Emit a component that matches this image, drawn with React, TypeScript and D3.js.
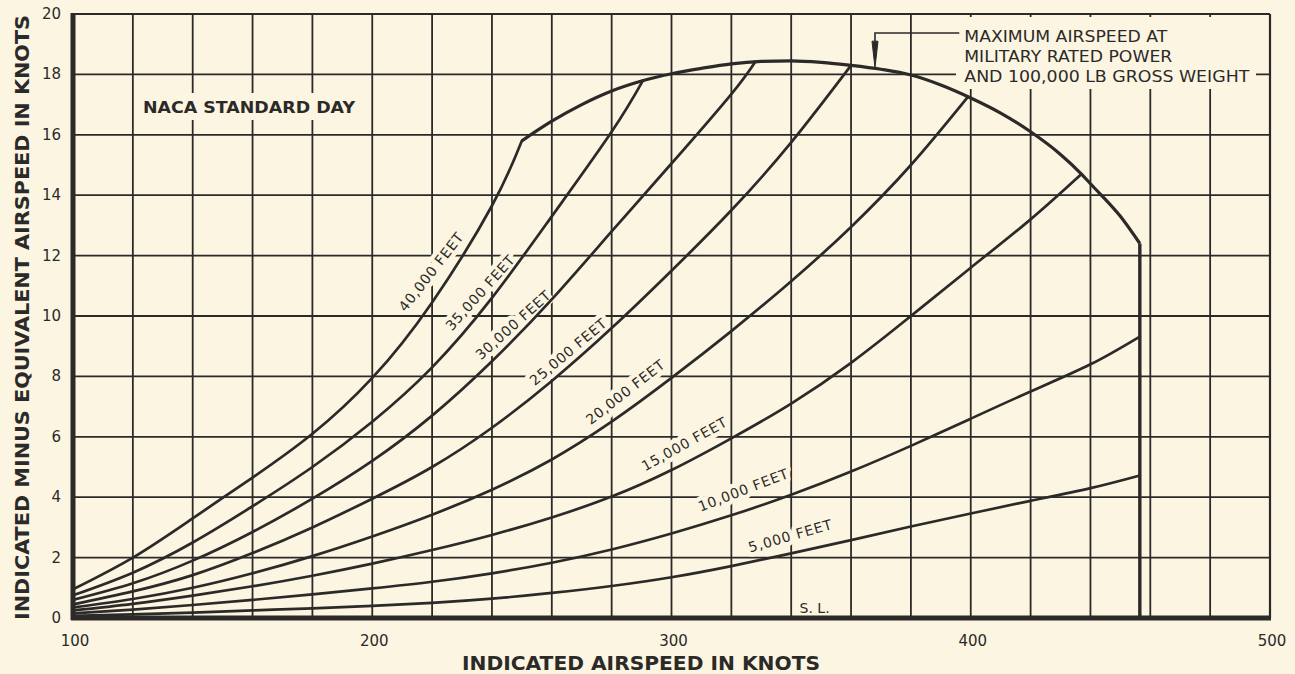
import React from 'react';
import * as d3 from 'd3';

const W = 1295;
const H = 674;

// ---- data (indicated airspeed in knots, Vi - Ve in knots) ----
const knots40 = [100, 120, 140, 160, 180, 200, 220, 240, 250];
const vals40 = [0.95, 2.0, 3.3, 4.65, 6.1, 7.95, 10.45, 13.65, 15.8];

const knots35 = [100, 120, 140, 160, 180, 200, 220, 240, 260, 280, 290.5];
const vals35 = [0.75, 1.5, 2.5, 3.7, 5.0, 6.5, 8.3, 10.6, 13.3, 16.1, 17.8];

const knots30 = [100, 120, 140, 160, 180, 200, 220, 240, 260, 280, 300, 320, 328];
const vals30 = [0.6, 1.15, 1.9, 2.85, 3.95, 5.2, 6.7, 8.5, 10.55, 12.8, 15.05, 17.35, 18.42];

const knots25 = [100, 120, 140, 160, 180, 200, 220, 240, 260, 280, 300, 320, 340, 360];
const vals25 = [0.45, 0.88, 1.42, 2.15, 3.0, 3.95, 5.0, 6.3, 7.85, 9.6, 11.5, 13.5, 15.75, 18.3];

const knots20 = [100, 120, 140, 160, 180, 200, 220, 240, 260, 280, 300, 320, 340, 360, 380, 399];
const vals20 = [0.35, 0.63, 1.0, 1.48, 2.05, 2.7, 3.42, 4.25, 5.25, 6.5, 7.95, 9.5, 11.15, 12.95, 15.0, 17.25];

const knots15 = [100, 120, 140, 160, 180, 200, 220, 240, 260, 280, 300, 320, 340, 360, 380, 400, 420, 437];
const vals15 = [0.25, 0.47, 0.74, 1.05, 1.4, 1.8, 2.25, 2.75, 3.33, 4.02, 4.9, 5.95, 7.1, 8.45, 10.0, 11.6, 13.2, 14.7];

const knots10 = [100, 120, 140, 160, 180, 200, 220, 240, 260, 280, 300, 320, 340, 360, 380, 400, 420, 440, 456.5];
const vals10 = [0.15, 0.28, 0.43, 0.6, 0.78, 0.98, 1.2, 1.48, 1.83, 2.27, 2.8, 3.4, 4.08, 4.85, 5.7, 6.6, 7.5, 8.4, 9.32];

const knots5 = [100, 120, 140, 160, 180, 200, 220, 240, 260, 280, 300, 320, 340, 360, 380, 400, 420, 440, 456.5];
const vals5 = [0.07, 0.12, 0.18, 0.25, 0.32, 0.4, 0.5, 0.64, 0.83, 1.06, 1.35, 1.72, 2.14, 2.58, 3.03, 3.46, 3.88, 4.3, 4.72];

// maximum airspeed envelope
const envKnots = [250, 260, 270, 280, 290, 300, 310, 320, 330, 340, 350, 360, 370, 380, 390, 400, 410, 420, 430, 437, 440, 450, 456.5];
const envVals = [15.8, 16.45, 17.0, 17.45, 17.78, 18.02, 18.2, 18.35, 18.43, 18.45, 18.4, 18.3, 18.17, 17.98, 17.65, 17.22, 16.72, 16.1, 15.35, 14.7, 14.38, 13.3, 12.4];
const maxSpeedKnots = 456.5;

const altitudeNames = ['40,000 FEET', '35,000 FEET', '30,000 FEET', '25,000 FEET', '20,000 FEET', '15,000 FEET', '10,000 FEET', '5,000 FEET'];
const altitudeKnots = [knots40, knots35, knots30, knots25, knots20, knots15, knots10, knots5];
const altitudeVals = [vals40, vals35, vals30, vals25, vals20, vals15, vals10, vals5];

const xTickValues = [100, 200, 300, 400, 500];
const yTickValues = [0, 2, 4, 6, 8, 10, 12, 14, 16, 18, 20];
const xGridValues = d3.range(100, 501, 20);
const yGridValues = d3.range(0, 21, 2);

const xTitle = 'INDICATED AIRSPEED IN KNOTS';
const yTitle = 'INDICATED MINUS EQUIVALENT AIRSPEED IN KNOTS';
const noteTitle = 'NACA STANDARD DAY';
const annotationLines = ['MAXIMUM AIRSPEED AT', 'MILITARY RATED POWER', 'AND 100,000 LB GROSS WEIGHT'];
const seaLevel = 'S.  L.';

// label placement (data coords + angle + text length)
const labelPlacement = [
  { k: 219.6, v: 11.46, a: -52, len: 95 },
  { k: 236.0, v: 10.77, a: -48, len: 95 },
  { k: 247.0, v: 9.7, a: -42, len: 95 },
  { k: 265.4, v: 8.81, a: -40, len: 95 },
  { k: 284.5, v: 7.48, a: -38, len: 95 },
  { k: 304.2, v: 5.76, a: -29, len: 95 },
  { k: 323.9, v: 4.24, a: -21, len: 95 },
  { k: 339.6, v: 2.72, a: -16, len: 86 },
];

const BG = '#fcf5e2';
const INK = '#2b2a28';

export default function App() {
  const x = d3.scaleLinear().domain([100, 500]).range([73, 1270]);
  const y = d3.scaleLinear().domain([0, 20]).range([618, 14]);

  const line = d3
    .line<[number, number]>()
    .x((d) => x(d[0]))
    .y((d) => y(d[1]))
    .curve(d3.curveNatural);

  const envLine = d3
    .line<[number, number]>()
    .x((d) => x(d[0]))
    .y((d) => y(d[1]))
    .curve(d3.curveMonotoneX);

  const curves = altitudeKnots.map((ks, i) => line(ks.map((k, j) => [k, altitudeVals[i][j]] as [number, number])) as string);
  const envPath = envLine(envKnots.map((k, j) => [k, envVals[j]] as [number, number])) as string;

  const font = "'DejaVu Sans', sans-serif";

  const labelEls = (halo: boolean) =>
    altitudeNames.map((name, i) => {
      const p = labelPlacement[i];
      return (
        <text
          key={name + halo}
          transform={`translate(${x(p.k)},${y(p.v)}) rotate(${p.a})`}
          textAnchor="middle"
          dominantBaseline="central"
          fontFamily={font}
          fontSize={14}
          textLength={p.len}
          fill={halo ? 'none' : INK}
          stroke={halo ? BG : 'none'}
          strokeWidth={halo ? 9 : 0}
          strokeLinejoin="round"
        >
          {name}
        </text>
      );
    });

  const annX = x(397.5);
  const arrowK = 368;
  const slX = x(342.8);
  const slY = y(0.18);

  return (
    <svg width={W} height={H} style={{ position: 'absolute', left: 0, top: 0 }}>
      <rect x={0} y={0} width={W} height={H} fill={BG} />
      {/* grid */}
      <g stroke={INK} strokeWidth={1.8}>
        {xGridValues.map((k) => (
          <line key={'gx' + k} x1={x(k)} x2={x(k)} y1={y(20)} y2={y(0)} />
        ))}
        {yGridValues.map((v) => (
          <line key={'gy' + v} x1={x(100)} x2={x(500)} y1={y(v)} y2={y(v)} />
        ))}
      </g>
      {/* knockouts */}
      <rect x={140} y={93} width={218} height={27} fill={BG} />
      <rect x={956} y={17} width={300} height={72} fill={BG} />
      {labelEls(true)}
      <text x={slX} y={slY} fontFamily={font} fontSize={14} stroke={BG} strokeWidth={8} fill="none" strokeLinejoin="round">
        {seaLevel}
      </text>
      {/* borders */}
      <line x1={x(100)} x2={x(500)} y1={y(20)} y2={y(20)} stroke={INK} strokeWidth={2.2} />
      <line x1={x(500)} x2={x(500)} y1={y(20)} y2={y(0)} stroke={INK} strokeWidth={2.2} />
      {/* curves */}
      <g fill="none" stroke={INK} strokeWidth={2.7} strokeLinejoin="round" strokeLinecap="round">
        {curves.map((d, i) => (
          <path key={'c' + i} d={d} />
        ))}
      </g>
      <path d={envPath} fill="none" stroke={INK} strokeWidth={3.2} strokeLinejoin="round" />
      <line
        x1={x(maxSpeedKnots)}
        x2={x(maxSpeedKnots)}
        y1={y(envVals[envVals.length - 1])}
        y2={y(0)}
        stroke={INK}
        strokeWidth={3.4}
      />
      {/* axes (thick) */}
      <line x1={x(100)} x2={x(100)} y1={y(20) - 1} y2={y(0) + 2} stroke={INK} strokeWidth={5} />
      <line x1={x(100) - 2} x2={x(500) + 1} y1={y(0)} y2={y(0)} stroke={INK} strokeWidth={5} />
      {/* tick labels */}
      <g fontFamily={font} fontSize={15} fill={INK}>
        {xTickValues.map((k) => (
          <text key={'xt' + k} x={x(k) + 2} y={646} textAnchor="middle">
            {k}
          </text>
        ))}
        {yTickValues.map((v) => (
          <text key={'yt' + v} x={61} y={y(v)} textAnchor="end" dominantBaseline="central">
            {v}
          </text>
        ))}
      </g>
      {/* titles */}
      <text
        x={462}
        y={670}
        fontFamily={font}
        fontWeight="bold"
        fontSize={19}
        fill={INK}
        textLength={358}
        lengthAdjust="spacingAndGlyphs"
      >
        {xTitle}
      </text>
      <text
        transform={`translate(29,620) rotate(-90)`}
        fontFamily={font}
        fontWeight="bold"
        fontSize={19}
        fill={INK}
        textLength={605}
        lengthAdjust="spacingAndGlyphs"
      >
        {yTitle}
      </text>
      <text
        x={143}
        y={113}
        fontFamily={font}
        fontWeight="bold"
        fontSize={16}
        fill={INK}
        textLength={212}
        lengthAdjust="spacingAndGlyphs"
      >
        {noteTitle}
      </text>
      {/* annotation */}
      <g fontFamily={font} fontSize={16} fill={INK}>
        {annotationLines.map((t, i) => (
          <text
            key={'an' + i}
            x={annX + 1}
            y={42 + i * 20}
            textLength={[203, 208, 285][i]}
            lengthAdjust="spacingAndGlyphs"
          >
            {t}
          </text>
        ))}
      </g>
      <polyline
        points={`${annX - 4},${y(19.37)} ${x(arrowK)},${y(19.37)} ${x(arrowK)},${y(19.1)}`}
        fill="none"
        stroke={INK}
        strokeWidth={1.6}
      />
      <path
        d={`M${x(arrowK) - 3},${y(19.1)} L${x(arrowK) + 3},${y(19.1)} L${x(arrowK)},${y(18.22)} Z`}
        fill={INK}
        stroke={INK}
        strokeWidth={1}
      />
      {/* altitude labels */}
      {labelEls(false)}
      <text x={slX} y={slY} fontFamily={font} fontSize={14} fill={INK}>
        {seaLevel}
      </text>
    </svg>
  );
}
